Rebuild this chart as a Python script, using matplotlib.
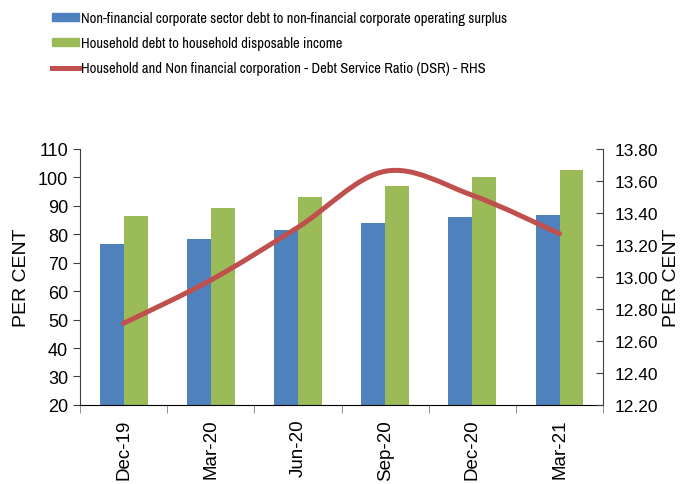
import numpy as np
import matplotlib.pyplot as plt
from matplotlib.path import Path
from matplotlib.patches import PathPatch, Patch
from matplotlib.lines import Line2D

plt.rcParams['font.family'] = ['Liberation Sans', 'DejaVu Sans']

# chart data
quarters = ['Dec-19', 'Mar-20', 'Jun-20', 'Sep-20', 'Dec-20', 'Mar-21']
corp_debt = [76.4, 78.4, 81.5, 83.8, 86.1, 86.6]
household_debt = [86.5, 89.3, 93.0, 97.0, 100.1, 102.5]
dsr = [12.71, 12.98, 13.31, 13.66, 13.51, 13.27]

blue = '#4F81BD'
green = '#9BBB59'
red = '#C0504D'

fig = plt.figure(figsize=(6.91, 4.85), dpi=100)
ax = fig.add_axes([0.1158, 0.163, 0.757, 0.528])
ax2 = ax.twinx()

x = np.arange(len(quarters))
w = 0.275
ax.bar(x - w / 2, corp_debt, w, color=blue, zorder=2)
ax.bar(x + w / 2, household_debt, w, color=green, zorder=2)

ax.set_ylim(20, 110)
ax.set_yticks(range(20, 111, 10))
ax.set_xlim(-0.5, len(quarters) - 0.5)
ax.set_xticks(x)
ax.set_xticklabels(quarters, rotation=90)
ax.set_xticks(np.arange(-0.5, len(quarters)), minor=True)
ax.tick_params(axis='x', which='major', length=0, labelsize=13.5, pad=10)
ax.tick_params(axis='x', which='minor', length=6, color='#808080')
ax.tick_params(axis='y', labelsize=13, length=5, color='#404040')
ax.set_ylabel('PER CENT', fontsize=14, labelpad=6)
for s in ['top', 'right']:
    ax.spines[s].set_visible(False)
ax.spines['left'].set_color('#404040')
ax.spines['bottom'].set_color('black')

# smoothed DSR line (cubic Bezier through the points, like Excel smoothing)
pts = np.column_stack([x, dsr]).astype(float)
verts = [pts[0]]
codes = [Path.MOVETO]
n = len(pts)
for i in range(n - 1):
    p0 = pts[i - 1] if i > 0 else pts[i]
    p1, p2 = pts[i], pts[i + 1]
    p3 = pts[i + 2] if i + 2 < n else pts[i + 1]
    c1 = p1 + (p2 - p0) / 6
    c2 = p2 - (p3 - p1) / 6
    verts += [c1, c2, p2]
    codes += [Path.CURVE4] * 3
ax2.add_patch(PathPatch(Path(verts, codes), fill=False, edgecolor=red,
                        lw=3.6, capstyle='round', zorder=3))

ax2.set_ylim(12.2, 13.8)
ax2.set_yticks(np.arange(12.2, 13.81, 0.2))
ax2.yaxis.set_major_formatter(plt.FuncFormatter(lambda v, p: f'{v:.2f}'))
ax2.tick_params(axis='y', labelsize=12.5, direction='in', length=5, color='#404040', pad=8)
ax2.set_ylabel('PER CENT', fontsize=14, labelpad=4)
for s in ['top', 'left', 'bottom']:
    ax2.spines[s].set_visible(False)
ax2.spines['right'].set_color('#404040')

handles = [Patch(color=blue), Patch(color=green), Line2D([], [], color=red, lw=3.6)]
labels = ['Non-financial corporate sector debt to non-financial corporate operating surplus',
          'Household debt to household disposable income',
          'Household and Non financial corporation - Debt Service Ratio (DSR) - RHS']
fig.legend(handles, labels, loc='upper left', bbox_to_anchor=(0.058, 1.0),
           frameon=False,
           prop={'family': ['Archivo Narrow', 'Liberation Sans'], 'size': 10.5},
           handlelength=1.85, handleheight=0.45,
           handletextpad=0.1, labelspacing=0.75, borderaxespad=0.45)

fig.savefig('out.png', dpi=100)
